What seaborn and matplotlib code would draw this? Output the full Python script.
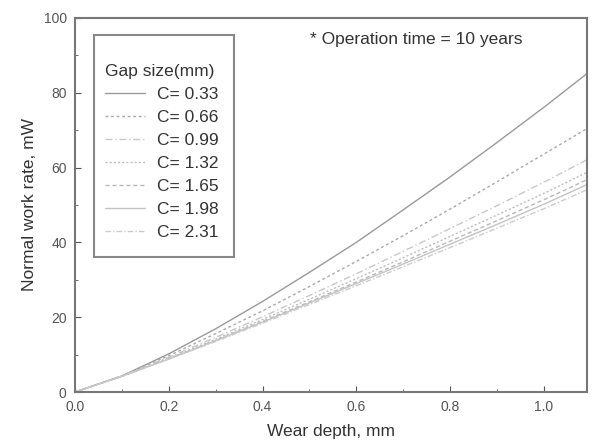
import numpy as np
import pandas as pd
import matplotlib
matplotlib.use("Agg")
import matplotlib.pyplot as plt
from matplotlib.patches import Rectangle
import seaborn as sns

depth = [0.0, 0.1, 0.2, 0.3, 0.4, 0.5, 0.6, 0.7, 0.8, 0.9, 1.0, 1.1]
gap_labels = ["C= 0.33", "C= 0.66", "C= 0.99", "C= 1.32", "C= 1.65", "C= 1.98", "C= 2.31"]
c033 = [0.0, 4.3, 10.2, 16.9, 24.2, 32.0, 40.0, 48.7, 57.5, 66.7, 76.1, 85.9]
c066 = [0.0, 4.3, 9.7, 15.6, 21.7, 28.2, 34.9, 41.8, 48.9, 56.2, 63.6, 71.0]
c099 = [0.0, 4.3, 9.3, 14.6, 20.1, 25.8, 31.6, 37.6, 43.7, 49.8, 56.1, 62.6]
c132 = [0.0, 4.2, 9.0, 14.1, 19.4, 24.8, 30.3, 35.9, 41.6, 47.3, 53.1, 59.2]
c165 = [0.0, 4.2, 8.9, 13.8, 18.9, 24.1, 29.4, 34.8, 40.3, 45.8, 51.4, 57.2]
c198 = [0.0, 4.2, 8.8, 13.7, 18.7, 23.8, 29.0, 34.2, 39.5, 44.8, 50.2, 55.9]
c231 = [0.0, 4.2, 8.8, 13.5, 18.4, 23.4, 28.4, 33.5, 38.6, 43.8, 49.0, 54.5]
series = [c033, c066, c099, c132, c165, c198, c231]

colors = ["#9a9a9a", "#a8a8a8", "#c8c8c8", "#bdbdbd", "#b8b8b8", "#c4c4c4", "#cccccc"]
styles = ["-", (0, (2, 2)), (0, (5, 2, 1, 2)), (0, (1.5, 1.5)), (0, (3, 2)), "-", (0, (4, 1.5, 1, 1.5))]

sns.set_style("ticks")
plt.rcParams["font.family"] = ["Liberation Sans", "DejaVu Sans"]

fig = plt.figure(figsize=(5.93, 4.48), dpi=100)
ax = fig.add_axes([0.1265, 0.125, 0.8634, 0.835])

for lab, vals, col, ls in zip(gap_labels, series, colors, styles):
    df = pd.DataFrame({"x": depth, "y": vals})
    sns.lineplot(data=df, x="x", y="y", ax=ax, color=col, linestyle=ls,
                 linewidth=1.0, label=lab)

ax.set_xlim(0, 1.092)
ax.set_ylim(0, 100)
ax.set_xticks([0.0, 0.2, 0.4, 0.6, 0.8, 1.0])
ax.set_xticks(np.arange(0.1, 1.1, 0.2), minor=True)
ax.set_yticks([0, 20, 40, 60, 80, 100])
ax.set_yticks([10, 30, 50, 70, 90], minor=True)
ax.tick_params(which="both", direction="in", color="#555555", labelcolor="#555555", labelsize=10)
ax.tick_params(which="major", length=4, pad=6)
ax.tick_params(which="minor", length=2)
for sp in ax.spines.values():
    sp.set_color("#777777")
    sp.set_linewidth(1.5)

ax.set_xlabel("Wear depth, mm", fontsize=12.5, color="#333333", labelpad=7)
ax.set_ylabel("Normal work rate, mW", fontsize=12.5, color="#333333", labelpad=5)

ax.text(0.459, 0.941, "* Operation time = 10 years", transform=ax.transAxes,
        fontsize=12.5, color="#333333", ha="left", va="center")

# legend box drawn separately so its padding can match the original
ax.add_patch(Rectangle((0.037, 0.361), 0.274, 0.594, transform=ax.transAxes,
                       facecolor="white", edgecolor="#888888", linewidth=1.5, zorder=4))
leg = ax.legend(title="Gap size(mm)", loc="upper left", bbox_to_anchor=(0.041, 0.9),
                fontsize=12.5, title_fontsize=12.5, frameon=False,
                labelspacing=0.45, borderpad=0, handlelength=2.3, handletextpad=0.7)
leg.set_zorder(5)
leg._legend_box.align = "left"
for t in leg.get_texts():
    t.set_color("#333333")
leg.get_title().set_color("#333333")

fig.savefig("out.png", dpi=100)
